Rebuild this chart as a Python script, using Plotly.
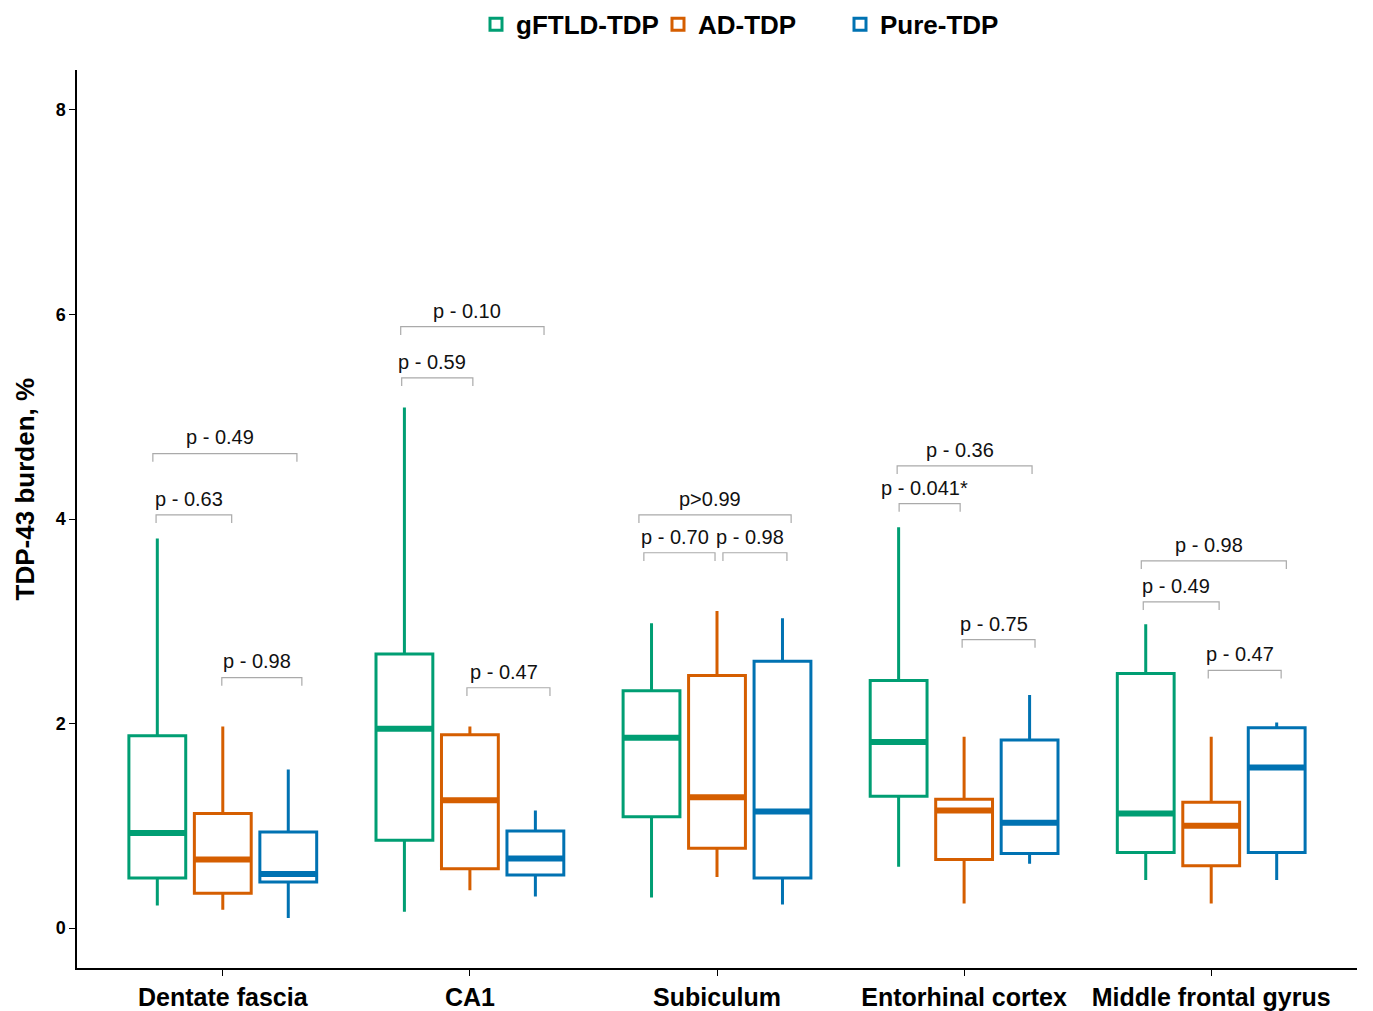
import plotly.graph_objects as go

regions = ["Dentate fascia", "CA1", "Subiculum", "Entorhinal cortex", "Middle frontal gyrus"]
groups = ["gFTLD-TDP", "AD-TDP", "Pure-TDP"]
colors = ["#009E73", "#D55E00", "#0072B2"]

# per group: lists over regions
lower = {
    "gFTLD-TDP": [0.22, 0.16, 0.30, 0.60, 0.47],
    "AD-TDP":    [0.18, 0.37, 0.50, 0.24, 0.24],
    "Pure-TDP":  [0.10, 0.31, 0.23, 0.63, 0.47],
}
q1 = {
    "gFTLD-TDP": [0.49, 0.86, 1.09, 1.29, 0.74],
    "AD-TDP":    [0.34, 0.58, 0.78, 0.67, 0.61],
    "Pure-TDP":  [0.45, 0.52, 0.49, 0.73, 0.74],
}
median = {
    "gFTLD-TDP": [0.93, 1.95, 1.86, 1.82, 1.12],
    "AD-TDP":    [0.67, 1.25, 1.28, 1.15, 1.00],
    "Pure-TDP":  [0.53, 0.68, 1.14, 1.03, 1.57],
}
q3 = {
    "gFTLD-TDP": [1.88, 2.68, 2.32, 2.42, 2.49],
    "AD-TDP":    [1.12, 1.89, 2.47, 1.26, 1.23],
    "Pure-TDP":  [0.94, 0.95, 2.61, 1.84, 1.96],
}
upper = {
    "gFTLD-TDP": [3.81, 5.09, 2.98, 3.92, 2.97],
    "AD-TDP":    [1.97, 1.97, 3.10, 1.87, 1.87],
    "Pure-TDP":  [1.55, 1.15, 3.03, 2.28, 2.01],
}

# significance brackets: region index, start offset, end offset, bracket height, label
br_region = [0, 0, 0, 1, 1, 1, 2, 2, 2, 3, 3, 3, 4, 4, 4]
br_x0 = [-0.283, -0.27, -0.004, -0.28, -0.276, -0.012, -0.316, -0.296, 0.024, -0.271, -0.263, -0.008, -0.283, -0.275, -0.012]
br_x1 = [0.300, 0.036, 0.320, 0.30, 0.012, 0.324, 0.300, -0.008, 0.283, 0.275, -0.016, 0.287, 0.304, 0.032, 0.283]
br_y = [4.64, 4.04, 2.45, 5.88, 5.38, 2.35, 4.04, 3.67, 3.67, 4.52, 4.15, 2.82, 3.59, 3.19, 2.52]
br_label = ["p - 0.49", "p - 0.63", "p - 0.98", "p - 0.10", "p - 0.59", "p - 0.47",
            "p>0.99", "p - 0.70", "p - 0.98", "p - 0.36", "p - 0.041*", "p - 0.75",
            "p - 0.98", "p - 0.49", "p - 0.47"]

offsets = [-0.265, 0.0, 0.265]
box_w = 0.23
FONT = "Liberation Sans, Arial"

fig = go.Figure()
shapes = []
for gi, g in enumerate(groups):
    xs = [i + offsets[gi] for i in range(len(regions))]
    fig.add_trace(go.Box(
        name=g, x=xs, q1=q1[g], median=median[g], q3=q3[g],
        lowerfence=lower[g], upperfence=upper[g],
        width=box_w, whiskerwidth=0,
        line=dict(color=colors[gi], width=3),
        fillcolor="rgba(255,255,255,0)",
        boxpoints=False, hoverinfo="skip",
    ))
    for x, m in zip(xs, median[g]):
        shapes.append(dict(type="line", xref="x", yref="y",
                           x0=x - box_w / 2, x1=x + box_w / 2, y0=m, y1=m,
                           line=dict(color=colors[gi], width=6), layer="above"))

annotations = []
tick_h = 0.08
for r, a, b, y, lab in zip(br_region, br_x0, br_x1, br_y, br_label):
    xa, xb = r + a, r + b
    shapes.append(dict(type="path", xref="x", yref="y",
                       path=f"M {xa},{y - tick_h} L {xa},{y} L {xb},{y} L {xb},{y - tick_h}",
                       line=dict(color="#AAAAAA", width=1.2)))
    annotations.append(dict(x=(xa + xb) / 2 - 0.02, y=y + 0.03, xref="x", yref="y",
                            text=lab, showarrow=False, yanchor="bottom",
                            font=dict(size=20, color="#111111", family=FONT)))

# y-axis title (placed slightly above the plot centre, as in the original)
annotations.append(dict(text="TDP-43 burden, %", xref="paper", yref="paper",
                        x=-0.0406, y=0.533, xanchor="center", yanchor="middle",
                        textangle=-90, showarrow=False,
                        font=dict(size=26, family=FONT, color="black", weight="bold")))

fig.update_layout(
    width=1365, height=1003,
    margin=dict(l=69, r=16, t=62, b=43, autoexpand=False),
    plot_bgcolor="white", paper_bgcolor="white",
    boxmode="overlay",
    showlegend=True,
    legend=dict(orientation="h", x=0.525, xanchor="center", y=1.077, yanchor="top",
                font=dict(size=26, family=FONT, color="black", weight="bold"),
                itemwidth=30, traceorder="normal",
                entrywidth=137, entrywidthmode="pixels"),
    shapes=shapes,
    annotations=annotations,
    font=dict(family=FONT, color="black"),
)
fig.update_xaxes(
    range=[-0.59, 4.59], tickmode="array", tickvals=list(range(len(regions))), ticktext=regions,
    showline=True, linecolor="black", linewidth=1.5, ticks="outside", ticklen=6, tickcolor="black",
    showgrid=False, zeroline=False, automargin=False,
    tickfont=dict(size=25, family=FONT, color="black", weight="bold"),
)
fig.update_yaxes(
    range=[-0.39, 8.39], tickvals=[0, 2, 4, 6, 8],
    showline=True, linecolor="black", linewidth=1.5, ticks="outside", ticklen=6, tickcolor="black",
    showgrid=False, zeroline=False, automargin=False,
    tickfont=dict(size=18, family=FONT, color="black", weight="bold"),
)

fig.write_html("out.html")
